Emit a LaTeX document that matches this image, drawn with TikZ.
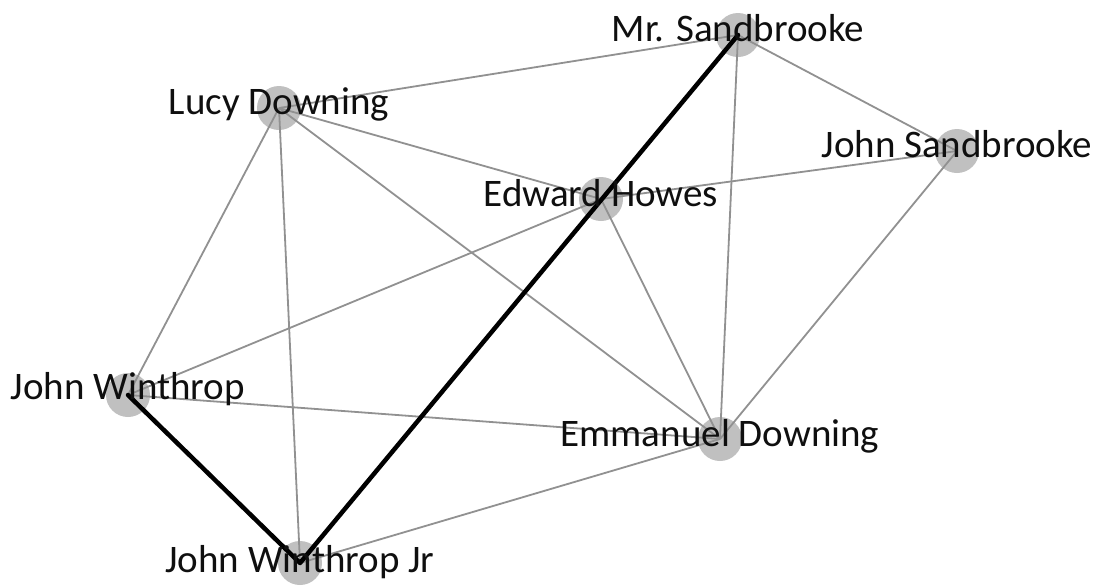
\documentclass[tikz,border=0pt]{standalone}
\usepackage{fontspec}
\setmainfont{Carlito}
\begin{document}
\begin{tikzpicture}[x=1pt,y=-1pt,
  dot/.style={circle,fill={rgb,255:red,192;green,192;blue,192},draw=none,minimum size=44pt,inner sep=0pt},
  link/.style={draw={rgb,255:red,145;green,145;blue,145},line width=1.8pt},
  pathlink/.style={draw=black,line width=4.5pt,line cap=round,line join=round},
  lbl/.style={anchor=base,inner sep=0pt,font=\fontsize{39}{41}\selectfont,text={rgb,255:red,15;green,15;blue,15}}]
  \path[use as bounding box,fill=white] (0,0) rectangle (1103,587);

  % people
  \node[dot] (ms)   at (738,35)  {};
  \node[dot] (lucy) at (279,108) {};
  \node[dot] (js)   at (957,151) {};
  \node[dot] (eh)   at (601,199) {};
  \node[dot] (jw)   at (128,395) {};
  \node[dot] (ed)   at (720,439) {};
  \node[dot] (jwjr) at (300,563) {};

  % acquaintances
  \draw[link] (lucy.center) -- (ms.center);
  \draw[link] (ms.center) -- (js.center);
  \draw[link] (ms.center) -- (ed.center);
  \draw[link] (lucy.center) -- (eh.center);
  \draw[link] (lucy.center) -- (ed.center);
  \draw[link] (lucy.center) -- (jw.center);
  \draw[link] (lucy.center) -- (jwjr.center);
  \draw[link] (eh.center) -- (js.center);
  \draw[link] (eh.center) -- (jw.center);
  \draw[link] (eh.center) -- (ed.center);
  \draw[link] (js.center) -- (ed.center);
  \draw[link] (jw.center) -- (ed.center);
  \draw[link] (ed.center) -- (jwjr.center);

  % highlighted path
  \draw[pathlink] (jw.center) -- (jwjr.center) -- (ms.center);

  % names
  \node[lbl] at ([yshift=-6pt]ms.center)   {Mr. Sandbrooke};
  \node[lbl] at ([yshift=-6pt]lucy.center) {Lucy Downing};
  \node[lbl] at ([yshift=-6pt]js.center)   {John Sandbrooke};
  \node[lbl] at ([yshift=-7pt]eh.center)   {Edward Howes};
  \node[lbl] at ([yshift=-4pt]jw.center)   {John Winthrop};
  \node[lbl] at ([yshift=-7pt]ed.center)   {Emmanuel Downing};
  \node[lbl] at ([yshift=-9pt]jwjr.center) {John Winthrop Jr};
\end{tikzpicture}
\end{document}
